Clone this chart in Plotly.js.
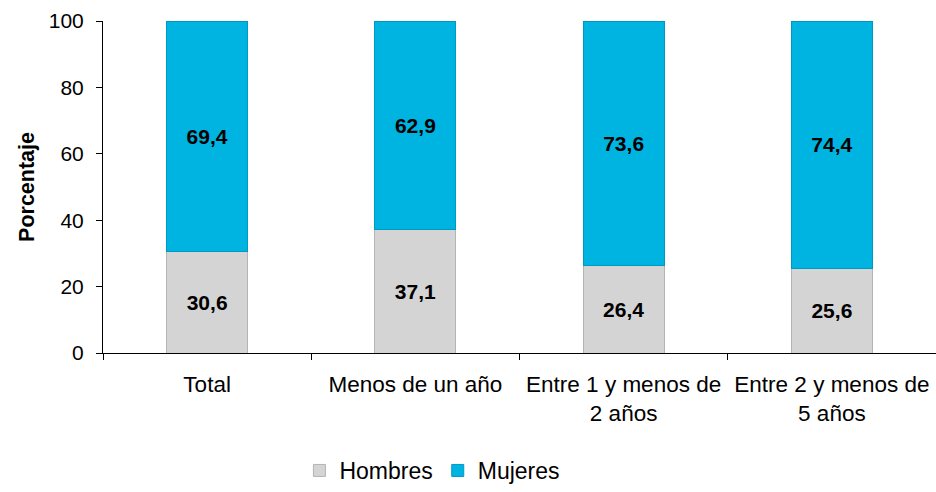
<!DOCTYPE html>
<html>
<head>
<meta charset="utf-8">
<script src="https://cdn.plot.ly/plotly-3.0.1.min.js"></script>
<style>html,body{margin:0;padding:0;background:#fff;}#chart{width:936px;height:492px;}</style>
</head>
<body>
<div id="chart"></div>
<script>
var categories = ["Total", "Menos de un año", "Entre 1 y menos de<br>2 años", "Entre 2 y menos de<br>5 años"];
var hombres = [30.6, 37.1, 26.4, 25.6];
var mujeres = [69.4, 62.9, 73.6, 74.4];
var yTicks = [0, 20, 40, 60, 80, 100];

var font = "Liberation Sans, Arial, sans-serif";

var traces = [
  {
    type: "bar", name: "Hombres", x: categories, y: hombres,
    width: 0.39,
    marker: {color: "#d4d4d4", line: {color: "#b4b4b4", width: 1}},
    texttemplate: "%{y:.1f}", textposition: "inside", insidetextanchor: "middle",
    textfont: {family: font, size: 21, color: "#000", weight: "bold"},
    hoverinfo: "none"
  },
  {
    type: "bar", name: "Mujeres", x: categories, y: mujeres,
    width: 0.39,
    marker: {color: "#00b4e2", line: {color: "#0098c4", width: 1}},
    texttemplate: "%{y:.1f}", textposition: "inside", insidetextanchor: "middle",
    textfont: {family: font, size: 21, color: "#000", weight: "bold"},
    hoverinfo: "none"
  }
];

var layout = {
  width: 936, height: 492,
  margin: {l: 103, r: 0, t: 21, b: 139, autoexpand: false},
  barmode: "stack",
  separators: ",.",
  paper_bgcolor: "#fff", plot_bgcolor: "#fff",
  font: {family: font, size: 21, color: "#000"},
  showlegend: true,
  legend: {
    orientation: "h", traceorder: "normal",
    x: 0.462, xref: "container", xanchor: "center",
    y: -0.016, yref: "container", yanchor: "bottom",
    font: {family: font, size: 23, color: "#000"},
    itemwidth: 30, tracegroupgap: 0
  },
  xaxis: {
    type: "category", automargin: false,
    showline: true, linecolor: "#000", linewidth: 1,
    ticks: "outside", tickson: "boundaries", ticklen: 6, tickcolor: "#000",
    ticklabelstandoff: 11,
    showgrid: false, zeroline: false,
    tickfont: {family: font, size: 22.5, color: "#000"}
  },
  yaxis: {
    range: [0, 100], automargin: false,
    tickvals: yTicks,
    showline: true, linecolor: "#000", linewidth: 1,
    ticks: "outside", ticklen: 6, tickcolor: "#000",
    ticklabelstandoff: 8,
    showgrid: false, zeroline: false,
    tickfont: {family: font, size: 21, color: "#000"},
    title: {text: "Porcentaje", font: {family: font, size: 21.5, color: "#000", weight: "bold"}, standoff: 8}
  }
};

Plotly.newPlot("chart", traces, layout, {displayModeBar: false, staticPlot: true});
</script>
</body>
</html>
